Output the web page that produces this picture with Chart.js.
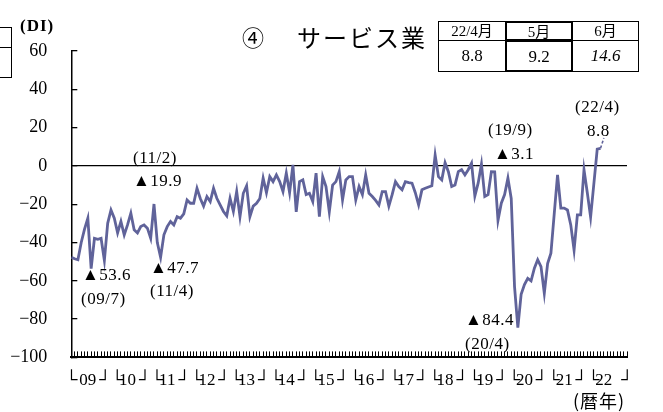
<!DOCTYPE html>
<html>
<head>
<meta charset="utf-8">
<script src="https://cdn.jsdelivr.net/npm/chart.js@4/dist/chart.umd.min.js"></script>
<style>
  html, body { margin: 0; padding: 0; background: #fff; }
  #wrap { position: relative; width: 663px; height: 412px; overflow: hidden; }
  #c { position: absolute; left: 0; top: 0; }
  .cell { position: absolute; box-sizing: border-box; border: 1px solid #000; text-align: center; color: #000;
          font-family: "Liberation Serif", "Noto Sans CJK JP", serif; }
  .bold { border: 2.5px solid #000; z-index: 2; }
  .stub { position: absolute; left: -6px; width: 18px; box-sizing: border-box; border: 1px solid #000; }
</style>
</head>
<body>
<div id="wrap">
  <canvas id="c" width="663" height="412"></canvas>
</div>
<script>
  "use strict";
  // DI（月次）2009年1月～2022年5月、6月は見通し
  var di2009 = [-47.7, -48.5, -49, -40, -33, -27.3, -53.6, -37.8, -38.3, -37.8, -49.4, -30];
  var di2010 = [-23, -27.3, -35, -29, -36, -30.8, -24.7, -33.4, -35, -31.7, -30.8, -32.5];
  var di2011 = [-37.8, -19.9, -40, -47.7, -36, -31.7, -29, -30.8, -26.5, -27.3, -25, -17.8];
  var di2012 = [-19.5, -19.5, -11.7, -17, -21, -16, -18.6, -11.7, -16.9, -20.4, -23.8, -26.1];
  var di2013 = [-16.9, -23.8, -13.4, -26.5, -14.3, -10.4, -26.5, -21, -19.5, -17, -6.4, -14];
  var di2014 = [-5.6, -8.2, -4.7, -8.2, -13.4, -3.8, -14, 0.5, -24, -8.2, -7.3, -15];
  var di2015 = [-14.3, -18.6, -3.8, -26.5, -5.6, -10.8, -24, -10, -8.2, -3, -17.8, -7.3];
  var di2016 = [-5.6, -5.6, -17.8, -10.8, -15, -4.7, -14.3, -16, -18, -20.4, -13.4, -13.4];
  var di2017 = [-21, -15, -8.2, -10.8, -12.5, -8.2, -8.7, -9, -14, -20.4, -12.5, -11.7];
  var di2018 = [-11, -10.4, 5.7, -5.6, -7.3, 1.7, -3, -10.8, -10, -3, -2, -4.7];
  var di2019 = [-2, 1.4, -15.7, -9, 1, -16, -15, -3, -3.1, -28.5, -19.5, -15];
  var di2020 = [-6.4, -17, -63, -84.4, -67, -62, -58.7, -60, -53.4, -49, -52.6, -66.5];
  var di2021 = [-51, -45.6, -25, -4.7, -22, -22, -23, -30.8, -44, -25.6, -25.6, -2];
  var di2022 = [-14, -26.8, -9, 8.8, 9.2];
  var forecast2022_6 = 14.6;

  var YEAR_LABELS = ["09", "10", "11", "12", "13", "14", "15", "16", "17", "18", "19", "20", "21", "22"];
  var Y_TICKS = [60, 40, 20, 0, -20, -40, -60, -80, -100];
  var TABLE_HEADS = ["22/4月", "5月", "6月"];
  var TABLE_VALUES = ["8.8", "9.2", "14.6"];

  var LINE = "#60639a";
  var SERIF = "'Liberation Serif', 'DejaVu Serif', serif";
  var JP = "'Noto Sans CJK JP', sans-serif";

  var actual = [].concat(di2009, di2010, di2011, di2012, di2013, di2014, di2015, di2016,
    di2017, di2018, di2019, di2020, di2021, di2022);
  var points = actual.map(function (v, i) { return { x: i, y: v }; });
  points.push({ x: actual.length, y: forecast2022_6 });
  var lastIdx = points.length - 1;
  var months = 12 * YEAR_LABELS.length;

  function xLabel(v) {
    if (v === 0) return "└";
    if (v === months) return "┘";
    if (v % 12 === 0) return "┘└";
    if (v % 12 === 5) return YEAR_LABELS[(v - 5) / 12];
    return "";
  }

  // 注記（テキストのみ）
  var NOTES = [
    { t: "(11/2)", x: 133, y: 159 }, { t: "▲19.9", x: 133, y: 182 },
    { t: "▲53.6", x: 82, y: 276 }, { t: "(09/7)", x: 81, y: 300 },
    { t: "▲47.7", x: 150, y: 269 }, { t: "(11/4)", x: 150, y: 292 },
    { t: "(19/9)", x: 488, y: 131 }, { t: "▲3.1", x: 494, y: 155 },
    { t: "▲84.4", x: 465, y: 321 }, { t: "(20/4)", x: 465, y: 345 },
    { t: "(22/4)", x: 575, y: 108 }, { t: "8.8", x: 587, y: 132 }
  ];

  var textPlugin = {
    id: "texts",
    afterDraw: function (chart) {
      var c = chart.ctx;
      c.save();
      c.fillStyle = "#000";
      c.textBaseline = "middle";
      c.textAlign = "left";
      c.font = "17px " + SERIF;
      c.letterSpacing = "0.5px";
      NOTES.forEach(function (n) { c.fillText(n.t, n.x, n.y); });
      c.font = "bold 17px " + SERIF;
      c.letterSpacing = "1px";
      c.fillText("(DI)", 20, 27);
      c.font = "22px " + JP;
      c.letterSpacing = "0px";
      c.fillText("④", 242, 38);
      c.font = "24px " + JP;
      c.letterSpacing = "2px";
      c.fillText("サービス業", 297, 38);
      c.font = "18px " + JP;
      c.letterSpacing = "1px";
      c.fillText("(暦年)", 573, 401);
      c.restore();
    }
  };

  new Chart(document.getElementById("c"), {
    type: "line",
    data: {
      datasets: [{
        data: points,
        borderColor: LINE,
        borderWidth: 2.8,
        pointRadius: 0,
        tension: 0,
        segment: {
          borderDash: function (ctx) { return ctx.p1DataIndex === lastIdx ? [3, 2] : undefined; },
          borderWidth: function (ctx) { return ctx.p1DataIndex === lastIdx ? 1.6 : undefined; }
        }
      }]
    },
    options: {
      responsive: false,
      animation: false,
      layout: { padding: { top: 51, right: 36, left: 0, bottom: 0 } },
      plugins: { legend: { display: false }, tooltip: { enabled: false } },
      scales: {
        x: {
          type: "linear", min: 0, max: months,
          afterBuildTicks: function (s) {
            var t = [];
            for (var m = 0; m <= months; m++) t.push({ value: m });
            s.ticks = t;
          },
          afterFit: function (s) { s.height = 54.6; },
          grid: { drawOnChartArea: false, drawTicks: true, tickLength: -6, color: "#000", tickColor: "#000", lineWidth: 1, tickWidth: 1 },
          border: { color: "#000", width: 2 },
          ticks: {
            autoSkip: false, maxRotation: 0, minRotation: 0, padding: 19, color: "#000",
            font: { family: SERIF, size: 17 },
            callback: function (v) { return xLabel(v); }
          }
        },
        y: {
          min: -100, max: 60,
          afterBuildTicks: function (s) { s.ticks = Y_TICKS.map(function (v) { return { value: v }; }); },
          afterFit: function (s) { s.width = 71.3; },
          grid: {
            drawOnChartArea: true, tickLength: -6, tickColor: "#000", tickWidth: 1.3, lineWidth: 1.3,
            color: function (ctx) { return ctx.tick && ctx.tick.value === 0 ? "#000" : "rgba(0,0,0,0)"; }
          },
          border: { color: "#000", width: 1.5 },
          ticks: {
            padding: 30, color: "#000", font: { family: SERIF, size: 18 },
            callback: function (v) { return v < 0 ? "−" + Math.abs(v) : String(v); }
          }
        }
      }
    },
    plugins: [textPlugin]
  });

  // 右上の表
  (function () {
    var wrap = document.getElementById("wrap");
    var cols = [438, 505, 572, 638], top = 21, mid = 40, bottom = 71;
    function cell(x0, x1, y0, y1, txt, size, extra, cls) {
      var d = document.createElement("div");
      d.className = "cell" + (cls ? " " + cls : "");
      d.style.left = x0 + "px"; d.style.top = y0 + "px";
      d.style.width = (x1 - x0 + 1) + "px"; d.style.height = (y1 - y0 + 1) + "px";
      d.style.fontSize = size + "px";
      d.style.lineHeight = (y1 - y0 - 1) + "px";
      if (extra) d.style.fontStyle = extra;
      d.textContent = txt;
      wrap.appendChild(d);
    }
    for (var i = 0; i < 3; i++) {
      cell(cols[i], cols[i + 1], top, mid, TABLE_HEADS[i], 15, null, i === 1 ? "bold" : null);
      cell(cols[i], cols[i + 1], mid, bottom, TABLE_VALUES[i], 17, i === 2 ? "italic" : null, i === 1 ? "bold" : null);
    }
    // 左端で切れている隣の表
    var s1 = document.createElement("div"); s1.className = "stub";
    s1.style.top = "27px"; s1.style.height = "21px"; wrap.appendChild(s1);
    var s2 = document.createElement("div"); s2.className = "stub";
    s2.style.top = "47px"; s2.style.height = "31px"; wrap.appendChild(s2);
  })();
</script>
</body>
</html>
